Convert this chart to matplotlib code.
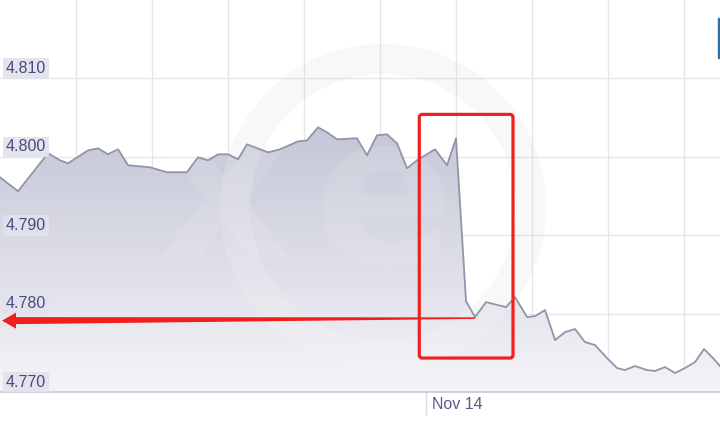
import matplotlib
matplotlib.use('Agg')
import matplotlib.pyplot as plt
import numpy as np
from matplotlib.colors import LinearSegmentedColormap
from matplotlib.patches import FancyBboxPatch, Polygon, Wedge, Rectangle
from matplotlib.transforms import IdentityTransform, blended_transform_factory

plt.rcParams['font.family'] = ['Liberation Sans', 'DejaVu Sans']

# hours relative to Nov 14
hours = [-36.0, -34.58, -32.21, -31.26, -30.63, -29.05, -28.26, -27.47, -26.68, -25.89,
         -24.16, -22.82, -21.24, -20.37, -19.58, -18.79, -18.0, -17.21, -16.5, -14.84,
         -13.89, -12.47, -11.76, -10.89, -10.18, -9.39, -7.82, -7.03, -6.24, -5.45,
         -4.66, -3.87, -3.08, -1.66, -0.71, 0.0, 0.79, 1.5, 2.37, 3.95,
         4.66, 5.61, 6.24, 7.03, 7.82, 8.61, 9.39, 10.18, 10.97, 11.92,
         12.71, 13.34, 14.13, 15.08, 15.71, 16.5, 17.29, 18.08, 18.87, 19.58,
         20.29, 20.84]
rates = [4.79739, 4.79561, 4.80045, 4.79955, 4.79917, 4.80083, 4.80108, 4.80032, 4.80096, 4.79892,
         4.79866, 4.79803, 4.79803, 4.79994, 4.79955, 4.80032, 4.80032, 4.79968, 4.80159, 4.80057,
         4.80096, 4.80197, 4.80210, 4.80376, 4.80312, 4.80223, 4.80236, 4.80019, 4.80274, 4.80287,
         4.80172, 4.79854, 4.79955, 4.80096, 4.79892, 4.80236, 4.78159, 4.77955, 4.78146, 4.78083,
         4.78210, 4.77955, 4.77968, 4.78045, 4.77662, 4.77764, 4.77803, 4.77637, 4.77599, 4.77433,
         4.77306, 4.77280, 4.77331, 4.77280, 4.77268, 4.77318, 4.77242, 4.77306, 4.77382, 4.77548,
         4.77433, 4.77331]
y_ticks = [4.770, 4.780, 4.790, 4.800, 4.810]
y_labels = ['4.770', '4.780', '4.790', '4.800', '4.810']
x_grid = [-30, -24, -18, -12, -6, 0, 6, 12, 18]
day_tick = -2.37
day_label = 'Nov 14'

W, H = 720, 423
fig = plt.figure(figsize=(W / 100, H / 100), dpi=100)
fig.patch.set_facecolor('white')
ax = fig.add_axes([0, 31 / H, 1, 392 / H])
ax.set_xlim(hours[0], hours[-1])
ax.set_ylim(4.770, 4.820)

ax.set_yticks(y_ticks)
ax.set_xticks(x_grid)
ax.grid(True, color='#e6e6ea', linewidth=1.0, zorder=0)
ax.tick_params(length=0, labelleft=False, labelbottom=False)
for s in ['top', 'left', 'right']:
    ax.spines[s].set_visible(False)
ax.spines['bottom'].set_color('#c8c8d8')
ax.spines['bottom'].set_linewidth(1.2)
ax.set_axisbelow(True)

# watermark (under the fill)
ident = IdentityTransform()
ring_c = (383, H - 207)
ax.add_patch(Wedge(ring_c, 163, 0, 360, width=30, facecolor='#000000', alpha=0.03,
                   edgecolor='none', transform=ident, zorder=1))

# gradient area
grad = np.linspace(0, 1, 256).reshape(-1, 1)
cmap = LinearSegmentedColormap.from_list('fill', ['#c3c5d5', '#f4f4f8'])
im = ax.imshow(grad, cmap=cmap, aspect='auto', origin='upper',
               extent=[hours[0], hours[-1], 4.770, 4.805], zorder=2)
area = ax.fill_between(hours, rates, 4.770, facecolor='none', edgecolor='none')
im.set_clip_path(area.get_paths()[0], transform=ax.transData)

# faint watermark highlights over the fill
ax.add_patch(Wedge(ring_c, 163, 0, 360, width=30, facecolor='white', alpha=0.15,
                   edgecolor='none', transform=ident, zorder=3))
ax.text(225, H - 200, 'x', transform=ident, fontsize=150, fontweight='bold',
        color='white', alpha=0.1, ha='center', va='center', zorder=3,
        family='DejaVu Sans')
ax.text(385, H - 205, 'e', transform=ident, fontsize=150, fontweight='bold',
        color='white', alpha=0.1, ha='center', va='center', zorder=3,
        family='DejaVu Sans')

ax.plot(hours, rates, color='#9294aa', linewidth=1.3, zorder=4)

# y labels inside plot
tr = blended_transform_factory(ax.transAxes, ax.transData)
for v, lab in zip(y_ticks, y_labels):
    ax.text(0.008, v + 0.0003, lab, transform=tr, ha='left', va='bottom',
            fontsize=11.5, color='#4a4a7e', zorder=6,
            bbox=dict(facecolor='#e2e2ee', edgecolor='none', pad=2.0, alpha=0.9))

# date tick + label
trx = blended_transform_factory(ax.transData, ax.transAxes)
ax.plot([day_tick, day_tick], [0, -0.055], transform=trx, clip_on=False,
        color='#dcdce4', linewidth=1)
ax.text(day_tick + 0.47, -0.013, day_label, transform=trx, ha='left', va='top',
        fontsize=11.5, color='#5a5a88')

# red highlight box around the drop
x0, y0 = ax.transData.transform((-2.9, 4.77433))
x1, y1 = ax.transData.transform((4.5, 4.80541))
ax.add_patch(FancyBboxPatch((x0, y0), x1 - x0, y1 - y0,
                            boxstyle='round,pad=0,rounding_size=3',
                            facecolor='none', edgecolor='#f02020', linewidth=2.3,
                            transform=ident, zorder=7, clip_on=False))

# red tapered arrow from the post-drop low to the left edge
i_low = 37
tx, ty = ax.transData.transform((hours[i_low], rates[i_low]))
ty = ty - 1
hy = ty - 2.5
arrow = [(2, hy), (16, hy + 8), (16, hy + 3.5), (tx, ty + 0.75), (tx, ty - 0.75),
         (16, hy - 3.5), (16, hy - 8)]
ax.add_patch(Polygon(arrow, closed=True, facecolor='#f01e1e', edgecolor='none',
                     transform=ident, zorder=7, clip_on=False))

# piece of blue button at right edge
fig.patches.append(Rectangle((718 / W, 1 - 58 / H), 2 / W, 40 / H, color='#2f6fa3',
                             transform=fig.transFigure))

fig.savefig('out.png', dpi=100)
